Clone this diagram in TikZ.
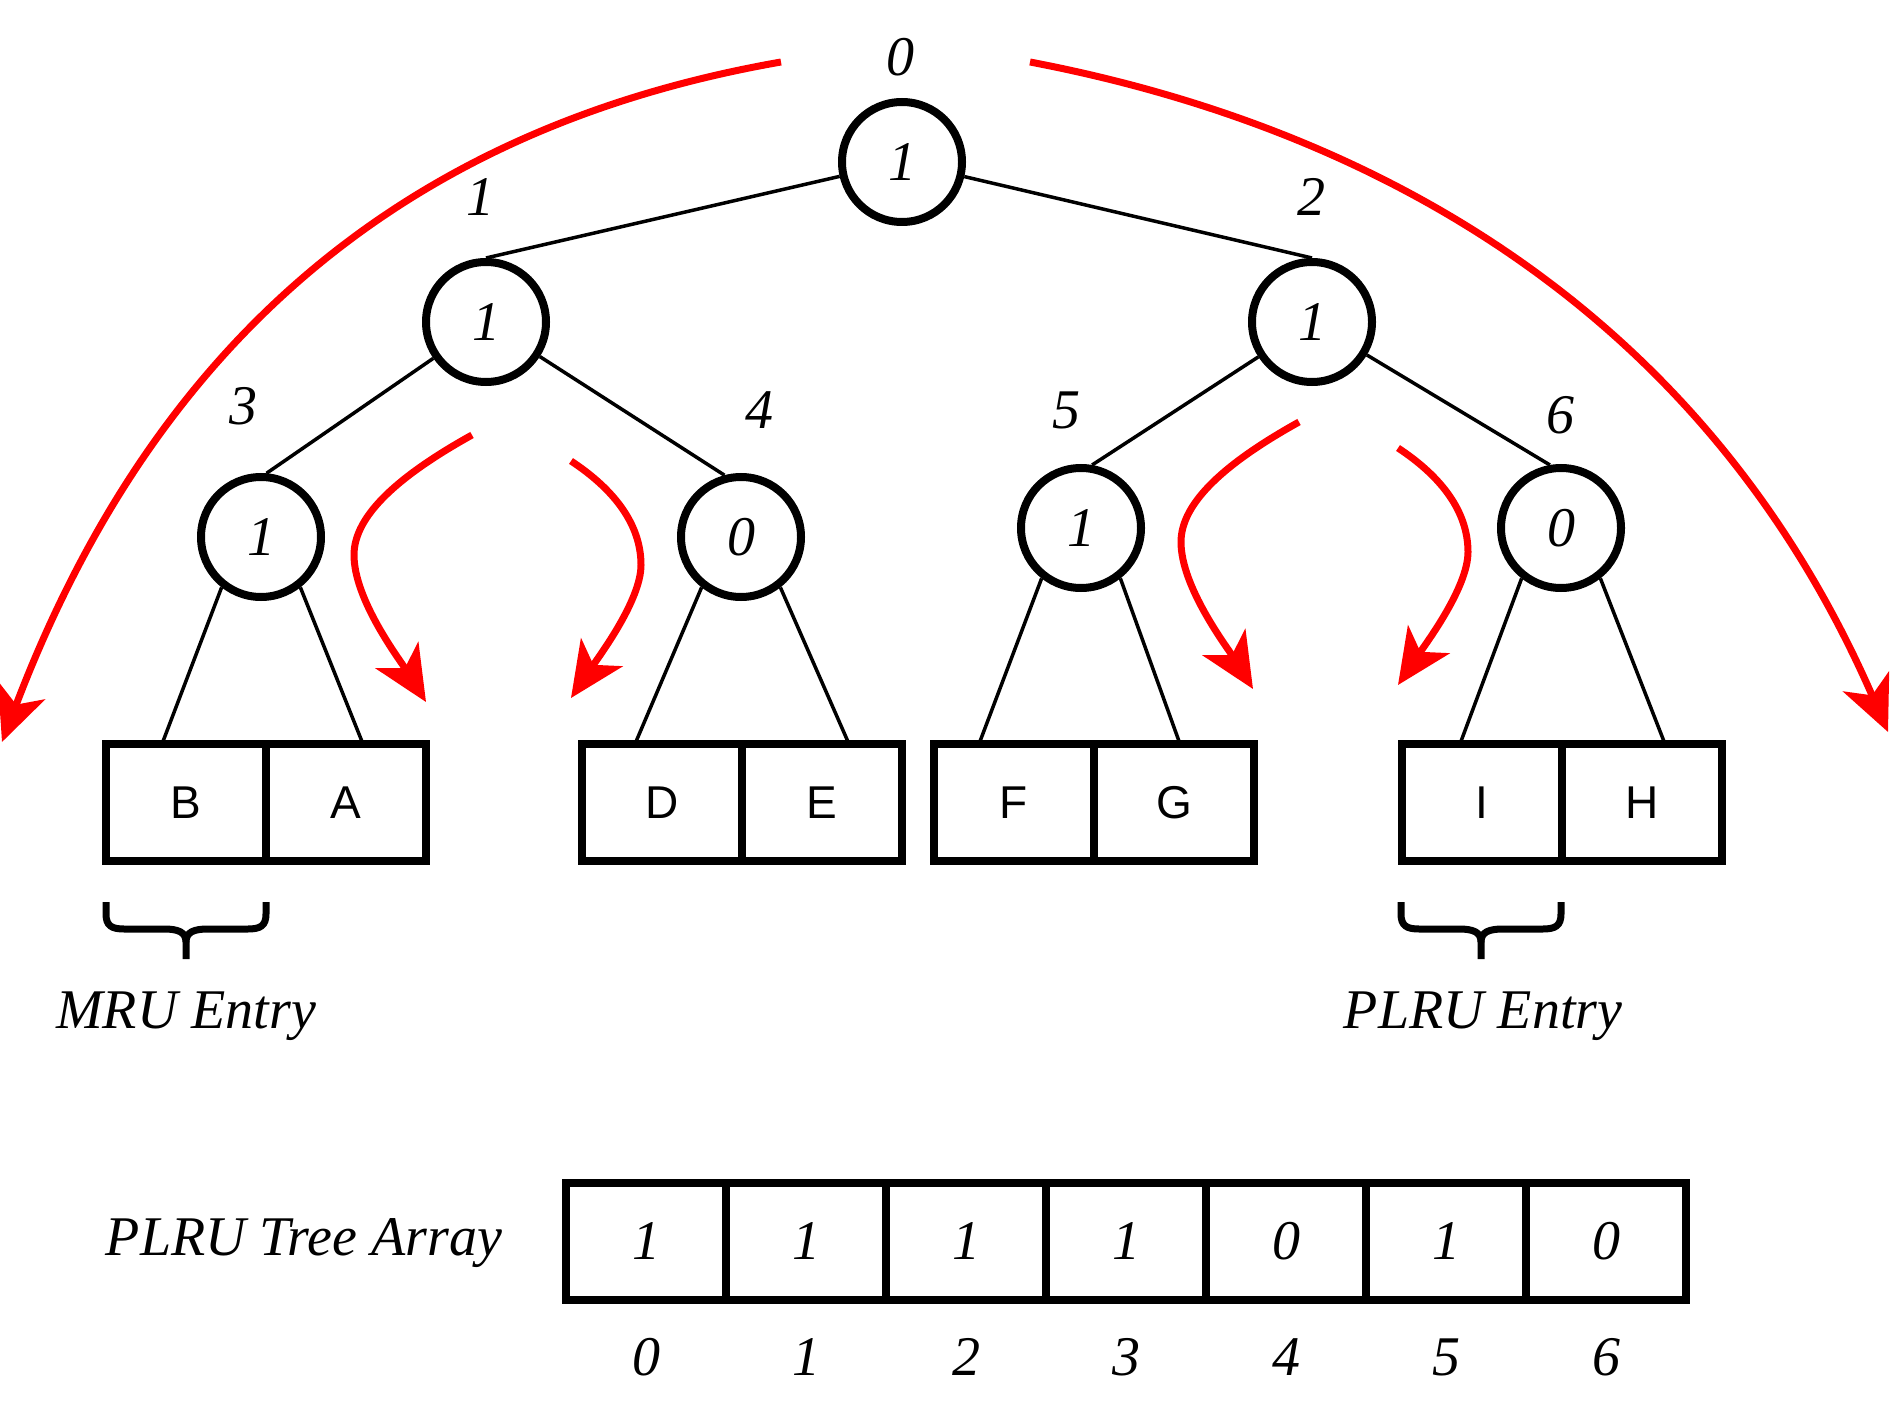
\documentclass[tikz,border=0pt]{standalone}
\usepackage{fontspec}
\setmainfont{Liberation Serif}
\newfontfamily\lsans{Liberation Sans}
\usetikzlibrary{arrows.meta}
\begin{document}
\begin{tikzpicture}[x=1pt,y=-1pt,
  tnode/.style={circle, draw, line width=8pt, minimum size=120pt, inner sep=0pt, font=\fontsize{56}{60}\selectfont\itshape},
  lbl/.style={font=\fontsize{56}{60}\selectfont\itshape, inner sep=0pt},
  cell/.style={draw, line width=8.5pt, minimum width=160pt, minimum height=117pt, inner sep=0pt, font=\fontsize{46}{50}\selectfont\lsans},
  acell/.style={cell, font=\fontsize{56}{60}\selectfont\itshape},
  edge/.style={line width=3.5pt},
  redarr/.style={draw=red, line width=7pt, -{Stealth[length=55pt,width=50pt,inset=15pt]}},
  bracepath/.style={line width=7pt}
]
\fill[white] (0,0) rectangle (1896,1420);
\useasboundingbox (0,0) rectangle (1896,1420);

% tree nodes
\node[tnode] (n0) at (902,162) {1};
\node[tnode] (n1) at (486,322) {1};
\node[tnode] (n2) at (1312,322) {1};
\node[tnode] (n3) at (261,537) {1};
\node[tnode] (n4) at (741,537) {0};
\node[tnode] (n5) at (1081,528) {1};
\node[tnode] (n6) at (1561,528) {0};

% index labels
\node[lbl] (l0) at (900,57) {0};
\node[lbl] (l1) at (480,197) {1};
\node[lbl] (l2) at (1311,197) {2};
\node[lbl] (l3) at (243,406) {3};
\node[lbl] (l4) at (759,410) {4};
\node[lbl] (l5) at (1066,410) {5};
\node[lbl] (l6) at (1560,415) {6};

% tree edges
\draw[edge] (n1.north) -- (n0);
\draw[edge] (n2.north) -- (n0);
\draw[edge] (n3.85) -- (n1);
\draw[edge] (n4.105) -- (n1);
\draw[edge] (n5.80) -- (n2);
\draw[edge] (n6.100) -- (n2);

% leaf cells
\node[cell] (cB) at (186,802.5) {B};
\node[cell] (cA) at (346,802.5) {A};
\node[cell] (cD) at (662,802.5) {D};
\node[cell] (cE) at (822,802.5) {E};
\node[cell] (cF) at (1014,802.5) {F};
\node[cell] (cG) at (1174,802.5) {G};
\node[cell] (cI) at (1482,802.5) {I};
\node[cell] (cH) at (1642,802.5) {H};

\coordinate (tB) at (162,744);
\coordinate (tA) at (363,744);
\coordinate (tD) at (635,744);
\coordinate (tE) at (849,744);
\coordinate (tF) at (979,744);
\coordinate (tG) at (1180,744);
\coordinate (tI) at (1460,744);
\coordinate (tH) at (1665,744);

\draw[edge] (n3.232) -- (tB);
\draw[edge] (n3.308) -- (tA);
\draw[edge] (n4.232) -- (tD);
\draw[edge] (n4.308) -- (tE);
\draw[edge] (n5.232) -- (tF);
\draw[edge] (n5.308) -- (tG);
\draw[edge] (n6.232) -- (tI);
\draw[edge] (n6.308) -- (tH);

% red arrows
\coordinate (rLs) at (781,62);
\coordinate (rLe) at (2,742);
\coordinate (rRs) at (1030,62);
\coordinate (rRe) at (1888,732);
\draw[redarr] (rLs) .. controls (450,120) and (170,300) .. (rLe);
\draw[redarr] (rRs) .. controls (1360,125) and (1700,300) .. (rRe);

\coordinate (ras) at (472,435);
\coordinate (rae) at (426,702);
\coordinate (rbs) at (571,461);
\coordinate (rbe) at (571,698);
\coordinate (rcs) at (1299,422);
\coordinate (rce) at (1253,689);
\coordinate (rds) at (1398,448);
\coordinate (rde) at (1398,685);
\draw[redarr] (ras) .. controls (400,475) and (354,515) .. (354,555) .. controls (354,600) and (400,660) .. (rae);
\draw[redarr] (rbs) .. controls (615,490) and (641,525) .. (641,565) .. controls (641,600) and (600,655) .. (rbe);
\draw[redarr] (rcs) .. controls (1227,462) and (1181,502) .. (1181,542) .. controls (1181,587) and (1227,647) .. (rce);
\draw[redarr] (rds) .. controls (1442,477) and (1468,512) .. (1468,552) .. controls (1468,587) and (1427,642) .. (rde);

% braces
\draw[bracepath] (106,902) -- (106,914) .. controls (106,926) and (112,929) .. (124,929) -- (164,929) .. controls (178,929) and (186,932) .. (186,942) -- (186,959);
\draw[bracepath] (266,902) -- (266,914) .. controls (266,926) and (260,929) .. (248,929) -- (208,929) .. controls (194,929) and (186,932) .. (186,942);
\begin{scope}[shift={(1295,0)}]
\draw[bracepath] (106,902) -- (106,914) .. controls (106,926) and (112,929) .. (124,929) -- (164,929) .. controls (178,929) and (186,932) .. (186,942) -- (186,959);
\draw[bracepath] (266,902) -- (266,914) .. controls (266,926) and (260,929) .. (248,929) -- (208,929) .. controls (194,929) and (186,932) .. (186,942);
\end{scope}

\node[lbl, anchor=base] (mru) at (186,1028) {MRU Entry};
\node[lbl, anchor=base] (plru) at (1483,1028) {PLRU Entry};

% tree array
\node[lbl, anchor=base] (arrlbl) at (304,1255) {PLRU Tree Array};
\node[acell] (a0) at (646,1241.5) {1};
\node[acell] (a1) at (806,1241.5) {1};
\node[acell] (a2) at (966,1241.5) {1};
\node[acell] (a3) at (1126,1241.5) {1};
\node[acell] (a4) at (1286,1241.5) {0};
\node[acell] (a5) at (1446,1241.5) {1};
\node[acell] (a6) at (1606,1241.5) {0};

\node[lbl] (i0) at (646,1357) {0};
\node[lbl] (i1) at (806,1357) {1};
\node[lbl] (i2) at (966,1357) {2};
\node[lbl] (i3) at (1126,1357) {3};
\node[lbl] (i4) at (1286,1357) {4};
\node[lbl] (i5) at (1446,1357) {5};
\node[lbl] (i6) at (1606,1357) {6};
\end{tikzpicture}
\end{document}
